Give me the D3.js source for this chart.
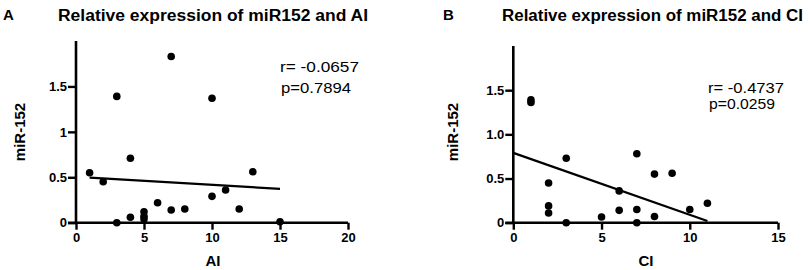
<!DOCTYPE html>
<html><head><meta charset="utf-8">
<script src="https://cdn.jsdelivr.net/npm/d3@7"></script>
<style>body{margin:0;background:#fff}svg{display:block}text{font-family:Arial,"Liberation Sans",sans-serif;fill:#000}</style>
</head><body>
<svg id="chart" width="811" height="270"></svg>
<script>
// Panel A: AI vs miR-152
const aiX = [3, 7, 10, 1, 2, 4, 3, 4, 5, 5, 5, 6, 7, 8, 10, 11, 12, 13, 15];
const aiY = [1.39, 1.83, 1.37, 0.55, 0.45, 0.71, 0.00, 0.06, 0.12, 0.07, 0.04, 0.22, 0.14, 0.15, 0.29, 0.36, 0.15, 0.56, 0.01];
const aiFitX = [1, 15];
const aiFitY = [0.497, 0.372];
const aiXTicks = [0, 5, 10, 15, 20];
const aiYTicks = [0, 0.5, 1, 1.5];
const aiYTickLabels = ["0", "0.5", "1", "1.5"];
// Panel B: CI vs miR-152
const ciX = [1, 1, 3, 2, 2, 2, 3, 5, 6, 6, 7, 7, 7, 8, 8, 9, 10, 11];
const ciY = [1.39, 1.36, 0.73, 0.45, 0.19, 0.11, 0.00, 0.065, 0.36, 0.14, 0.78, 0.15, 0.00, 0.55, 0.07, 0.56, 0.15, 0.22];
const ciFitX = [0, 11];
const ciFitY = [0.79, 0.02];
const ciXTicks = [0, 5, 10, 15];
const ciYTicks = [0, 0.5, 1.0, 1.5];
const ciYTickLabels = ["0", "0.5", "1.0", "1.5"];

const svg = d3.select("#chart");

function panel(o) {
  const x = d3.scaleLinear().domain(o.xDomain).range(o.xRange);
  const y = d3.scaleLinear().domain([0, 2]).range(o.yRange);
  const g = svg.append("g");
  const xa = g.append("g").attr("transform", `translate(0,${o.yRange[0]})`)
    .call(d3.axisBottom(x).tickValues(o.xTicks).tickFormat(d3.format("d")).tickSizeOuter(0).tickSize(7).tickPadding(3));
  const ya = g.append("g").attr("transform", `translate(${o.xRange[0]},0)`)
    .call(d3.axisLeft(y).tickValues(o.yTicks).tickFormat((d, i) => o.yLabels[i]).tickSizeOuter(0).tickSize(8).tickPadding(1));
  [xa, ya].forEach(a => {
    a.select(".domain").attr("stroke", "#000").attr("stroke-width", 2.6);
    a.selectAll(".tick line").attr("stroke", "#000").attr("stroke-width", 2.4);
    a.selectAll(".tick text").attr("font-size", 13).attr("font-weight", "bold").attr("fill", "#000")
      .attr("font-family", "Arial, 'Liberation Sans', sans-serif");
  });
  xa.select(".domain").attr("d", `M${o.xRange[0] - 8},0H${o.xRange[1]}`);
  ya.select(".domain").attr("d", `M0,${o.yRange[0]}V${o.yRange[1]}`);
  g.append("line")
    .attr("x1", x(o.fitX[0])).attr("y1", y(o.fitY[0]))
    .attr("x2", x(o.fitX[1])).attr("y2", y(o.fitY[1]))
    .attr("stroke", "#000").attr("stroke-width", 2.2);
  g.selectAll("circle").data(o.xs.map((d, i) => [d, o.ys[i]])).join("circle")
    .attr("cx", d => x(d[0])).attr("cy", d => y(d[1])).attr("r", 3.8).attr("fill", "#000");
  g.append("text").attr("x", o.letterX).attr("y", 20).attr("font-size", 15).attr("font-weight", "bold").text(o.letter);
  g.append("text").attr("x", o.titleX).attr("y", 21).attr("font-size", 16).attr("font-weight", "bold")
    .attr("textLength", o.titleW).attr("lengthAdjust", "spacingAndGlyphs").text(o.title);
  g.append("text").attr("transform", `translate(${o.yLabX},${o.yLabY}) rotate(-90)`).attr("text-anchor", "middle")
    .attr("font-size", 15).attr("font-weight", "bold").text("miR-152");
  g.append("text").attr("x", o.xLabX).attr("y", 266).attr("text-anchor", "middle")
    .attr("font-size", 15).attr("font-weight", "bold").text(o.xLab);
  g.append("text").attr("x", o.statX).attr("y", o.rY).attr("font-size", 14.5)
    .attr("textLength", o.rW).attr("lengthAdjust", "spacingAndGlyphs").text(o.r);
  g.append("text").attr("x", o.statX + 1).attr("y", o.pY).attr("font-size", 14.5)
    .attr("textLength", o.pW).attr("lengthAdjust", "spacingAndGlyphs").text(o.p);
}

panel({xDomain: [0, 20], xRange: [76, 348], yRange: [222.7, 41], xTicks: aiXTicks, yTicks: aiYTicks, yLabels: aiYTickLabels,
  xs: aiX, ys: aiY, fitX: aiFitX, fitY: aiFitY, letter: "A", letterX: 3, title: "Relative expression of miR152 and AI",
  titleX: 58, titleW: 310, yLabX: 24.5, yLabY: 132, xLabX: 213, xLab: "AI",
  statX: 280, rY: 71.5, pY: 93, r: "r= -0.0657", p: "p=0.7894", rW: 79, pW: 70});
panel({xDomain: [0, 15], xRange: [513.3, 778], yRange: [222.7, 46], xTicks: ciXTicks, yTicks: ciYTicks, yLabels: ciYTickLabels,
  xs: ciX, ys: ciY, fitX: ciFitX, fitY: ciFitY, letter: "B", letterX: 443, title: "Relative expression of miR152 and CI",
  titleX: 502, titleW: 301, yLabX: 458, yLabY: 132, xLabX: 646, xLab: "CI",
  statX: 708, rY: 92.5, pY: 108.5, r: "r= -0.4737", p: "p=0.0259", rW: 76, pW: 66});
</script>
</body></html>
